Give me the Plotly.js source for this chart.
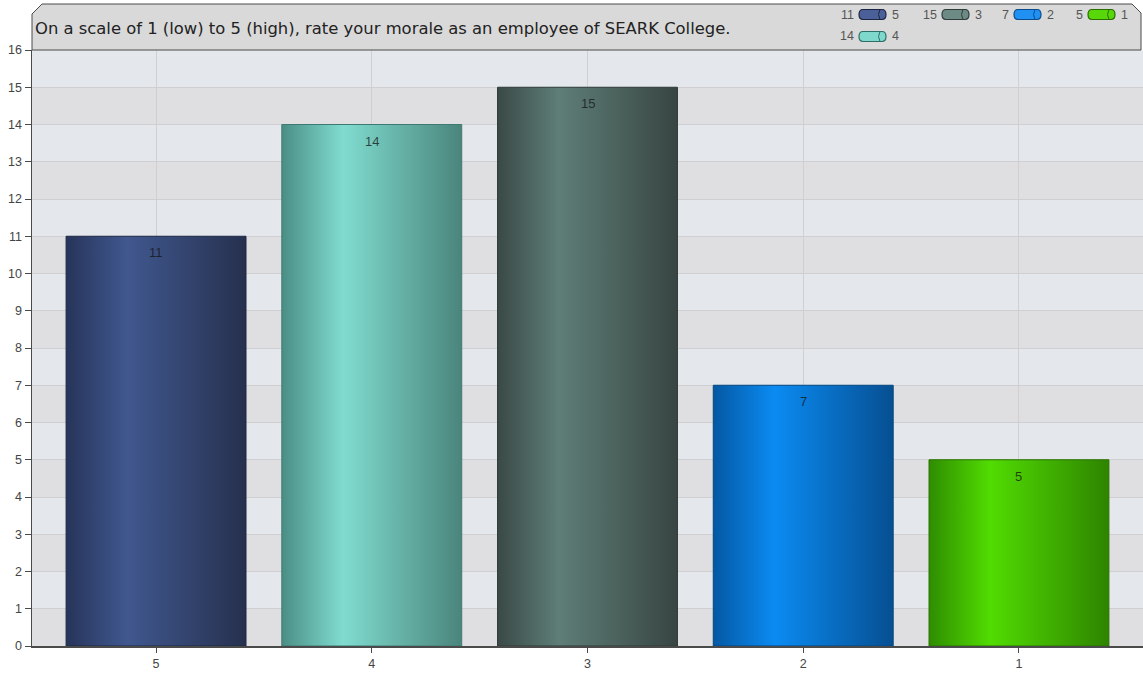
<!DOCTYPE html>
<html>
<head>
<meta charset="utf-8">
<script src="https://cdn.plot.ly/plotly-3.0.1.min.js"></script>
<style>
  html, body { margin: 0; padding: 0; background: #ffffff; }
  #chart { width: 1143px; height: 674px; }
</style>
</head>
<body>
<div id="chart"></div>
<script>
// ---- data ----
const titleText = 'On a scale of 1 (low) to 5 (high), rate your morale as an employee of SEARK College.';
const categories = ['5', '4', '3', '2', '1'];
const counts = [11, 14, 15, 7, 5];
const yTicks = [0,1,2,3,4,5,6,7,8,9,10,11,12,13,14,15,16];

// ---- styles ----
const baseColors  = ['#34457a', '#66b8ad', '#4d6661', '#0a74cc', '#41b500'];
const edgeLeft    = ['#27345a', '#4a8e85', '#3a4946', '#0458a3', '#2f8d00'];
const peakColors  = ['#40588f', '#80dccf', '#5e7e77', '#0b8bf2', '#51dc02'];
const edgeRight   = ['#26304e', '#4a857c', '#384542', '#064f92', '#2e8400'];
const outline     = ['#1f2945', '#3f7a72', '#2f3b39', '#04477f', '#2a7300'];
const legendFill  = ['#4b5f98', '#7fd8cc', '#6d8a84', '#2090f2', '#58d80a'];
const legendLine  = ['#1c2643', '#2f6e66', '#2e3d3a', '#0a4c8c', '#2a6c00'];

const FONT = 'Liberation Sans, Arial, Helvetica, sans-serif';
const TFONT = 'DejaVu Sans, Verdana, sans-serif';
const L = 32, T = 50, W = 1111, H = 596, FULLH = 674;
const px = x => (x - L) / W;
const py = y => (T + H - y) / H;

// alternating bands
const shapes = [];
for (let i = 0; i < yTicks.length - 1; i += 2) {
  shapes.push({
    type: 'rect', layer: 'below', xref: 'paper', yref: 'y',
    x0: 0, x1: 1, y0: yTicks[i], y1: yTicks[i + 1],
    fillcolor: '#dfdfe1', line: { width: 0 }
  });
}

// title box
shapes.push({
  type: 'path', xref: 'paper', yref: 'paper', layer: 'above',
  path: `M ${px(32)},${py(50)} L ${px(32)},${py(14)} L ${px(42)},${py(4)} L ${px(1132)},${py(4)} L ${px(1141)},${py(13)} L ${px(1141)},${py(50)} Z`,
  fillcolor: '#d9d9d9', line: { color: '#4a4a4a', width: 1 }
});

// custom legend
const legendSlots = [
  { idx: 0, x: 859, y: 14.5 },
  { idx: 2, x: 942, y: 14.5 },
  { idx: 3, x: 1014, y: 14.5 },
  { idx: 4, x: 1088, y: 14.5 },
  { idx: 1, x: 859, y: 36.5 }
];
const annotations = [];
legendSlots.forEach(s => {
  shapes.push({
    type: 'path', xref: 'paper', yref: 'paper', layer: 'above',
    xsizemode: 'pixel', ysizemode: 'pixel',
    xanchor: px(s.x), yanchor: py(s.y),
    path: 'M4,-5 L23,-5 Q27,-5 27,0 Q27,5 23,5 L4,5 Q0,5 0,0 Q0,-5 4,-5 Z',
    fillcolor: legendFill[s.idx], line: { color: legendLine[s.idx], width: 1.2 }
  });
  shapes.push({
    type: 'path', xref: 'paper', yref: 'paper', layer: 'above',
    xsizemode: 'pixel', ysizemode: 'pixel',
    xanchor: px(s.x), yanchor: py(s.y),
    path: 'M21,-5 Q18,0 21,5',
    line: { color: legendLine[s.idx], width: 1 }
  });
  annotations.push({
    xref: 'paper', yref: 'paper', x: px(s.x - 3), y: py(s.y),
    xanchor: 'right', yanchor: 'middle', showarrow: false,
    text: String(counts[s.idx]), font: { family: FONT, size: 12.5, color: '#555555' }
  });
  annotations.push({
    xref: 'paper', yref: 'paper', x: px(s.x + 31), y: py(s.y),
    xanchor: 'left', yanchor: 'middle', showarrow: false,
    text: categories[s.idx], font: { family: FONT, size: 12.5, color: '#555555' }
  });
});

// value labels
categories.forEach((c, i) => {
  annotations.push({
    xref: 'x', yref: 'y', x: i, y: counts[i],
    xanchor: 'center', yanchor: 'top', yshift: -7, showarrow: false,
    text: String(counts[i]), font: { family: FONT, size: 13, color: 'rgba(20,20,20,0.75)' }
  });
});

const data = [{
  type: 'bar',
  x: categories,
  y: counts,
  width: 0.834,
  marker: { color: baseColors, line: { color: outline, width: 1 } },
  hoverinfo: 'skip',
  showlegend: false
}];

const layout = {
  width: 1143, height: FULLH,
  margin: { l: L, r: 0, t: T, b: 28, pad: 0 },
  paper_bgcolor: '#ffffff',
  plot_bgcolor: '#e4e7eb',
  font: { family: FONT, size: 12, color: '#444444' },
  title: {
    text: titleText,
    xref: 'paper', yref: 'container', x: 0, xanchor: 'left',
    y: 1 - 28.5 / FULLH, yanchor: 'middle', pad: { l: 3 },
    font: { family: TFONT, size: 16.4, color: '#222222' }
  },
  showlegend: false,
  xaxis: {
    type: 'category',
    range: [-0.575, 4.575],
    showgrid: true, gridcolor: '#d0d0d2', gridwidth: 1,
    showline: true, linecolor: '#4a4a4a', linewidth: 1.5,
    ticks: 'outside', ticklen: 5, tickcolor: '#4a4a4a',
    tickfont: { family: FONT, size: 12.5, color: '#444444' },
    fixedrange: true
  },
  yaxis: {
    range: [0, 16],
    tickvals: yTicks,
    showgrid: true, gridcolor: '#cfcfd1', gridwidth: 1,
    zeroline: false,
    showline: true, linecolor: '#4a4a4a', linewidth: 1.5,
    ticks: 'outside', ticklen: 6, tickcolor: '#4a4a4a',
    tickfont: { family: FONT, size: 12.5, color: '#444444' },
    fixedrange: true
  },
  shapes: shapes,
  annotations: annotations
};

Plotly.newPlot('chart', data, layout, { staticPlot: true, displayModeBar: false }).then(gd => {
  const ns = 'http://www.w3.org/2000/svg';
  const svg = gd.querySelector('.main-svg');
  let defs = svg.querySelector('defs');
  if (!defs) { defs = document.createElementNS(ns, 'defs'); svg.insertBefore(defs, svg.firstChild); }
  categories.forEach((c, i) => {
    const g = document.createElementNS(ns, 'linearGradient');
    g.setAttribute('id', 'barGrad' + i);
    g.setAttribute('x1', '0'); g.setAttribute('y1', '0');
    g.setAttribute('x2', '1'); g.setAttribute('y2', '0');
    [[0, edgeLeft[i]], [0.34, peakColors[i]], [1, edgeRight[i]]].forEach(([o, col]) => {
      const st = document.createElementNS(ns, 'stop');
      st.setAttribute('offset', o);
      st.setAttribute('stop-color', col);
      g.appendChild(st);
    });
    defs.appendChild(g);
  });
  gd.querySelectorAll('.barlayer .point path').forEach((p, i) => {
    p.style.fill = 'url(#barGrad' + i + ')';
  });
});
</script>
</body>
</html>
